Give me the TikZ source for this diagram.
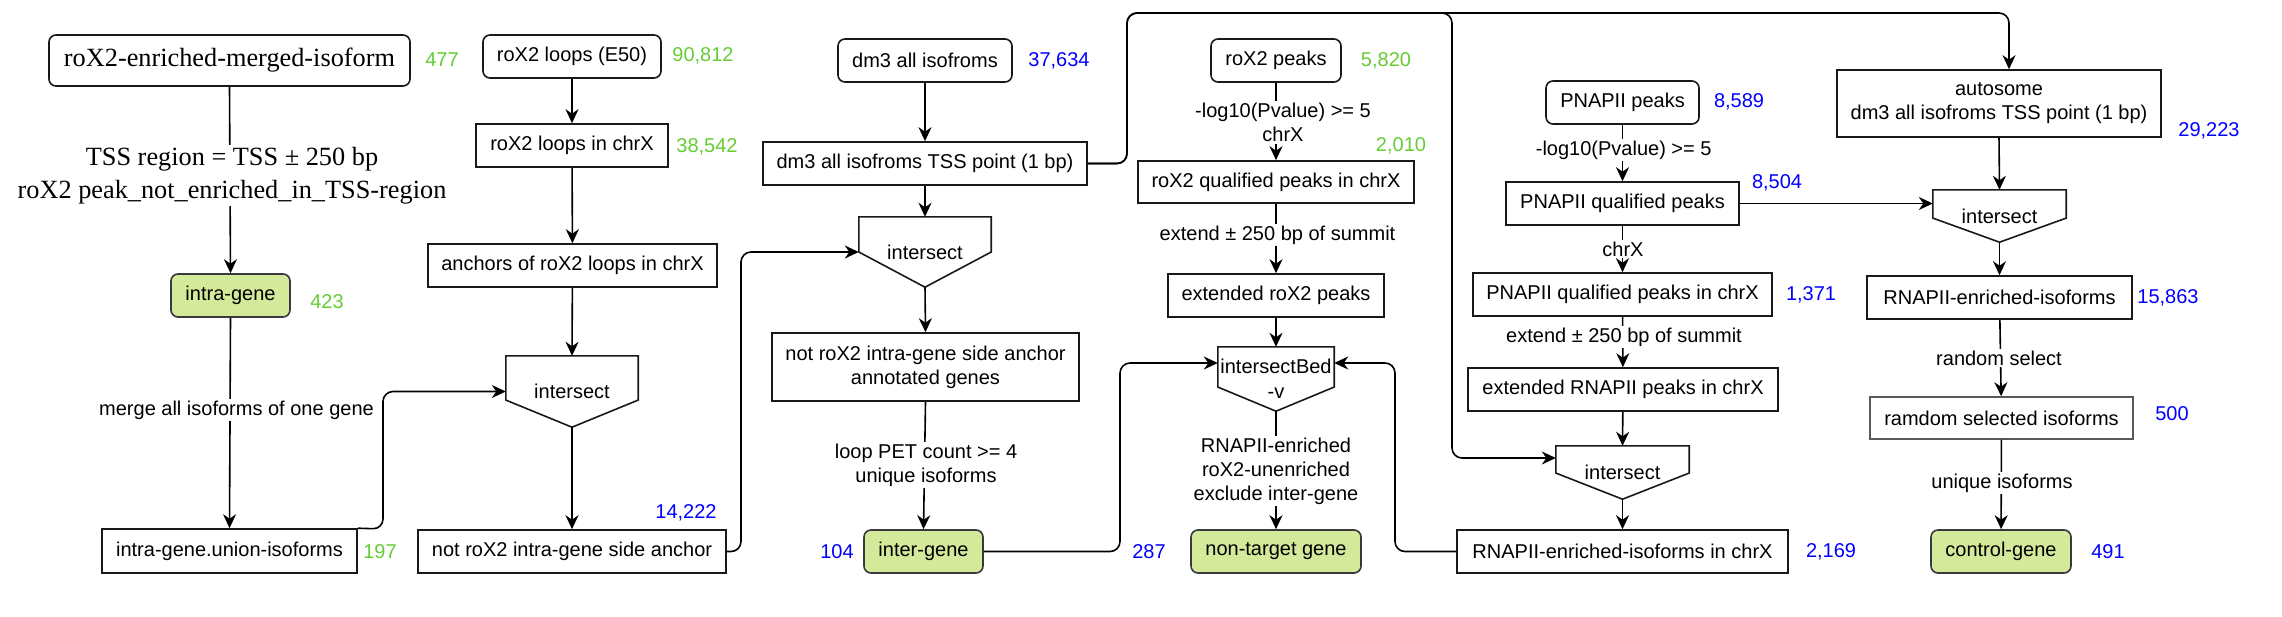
\documentclass[tikz,border=0pt]{standalone}
\usepackage{fontspec}
\setmainfont{Liberation Sans}
\newfontfamily\serifface{Liberation Serif}
\usetikzlibrary{arrows.meta,calc}
\definecolor{numgreen}{HTML}{66CC33}
\definecolor{numblue}{HTML}{0000FF}
\definecolor{gfill}{HTML}{D4E99A}
\definecolor{gstroke}{HTML}{36393D}
\newcommand\pentshape[2]{%
  \draw[shapeline] (#1.north west) -- (#1.north east)
    -- ($(#1.north east)!#2!(#1.south east)$) -- (#1.south)
    -- ($(#1.north west)!#2!(#1.south west)$) -- cycle;}
\begin{document}
\begin{tikzpicture}[x=1pt,y=-1pt,
  txt/.style={font=\fontsize{20}{24}\selectfont},
  box/.style={txt,draw=black!90,line width=1.6pt,minimum height=43pt,inner sep=0pt,align=center},
  rbox/.style={box,rounded corners=7pt},
  gbox/.style={rbox,fill=gfill,draw=gstroke},
  pent/.style={txt,inner sep=0pt,align=center},
  shapeline/.style={draw=black!90,line width=1.6pt,line join=miter},
  gnum/.style={txt,text=numgreen,inner sep=0pt},
  bnum/.style={txt,text=numblue,inner sep=0pt},
  lbl/.style={txt,fill=white,inner sep=2pt,align=center},
  arr/.style={line width=1.6pt,-{Stealth[length=14pt,width=13pt,inset=4.5pt]}},
  conn/.style={arr,rounded corners=10pt}]
\useasboundingbox (0,0) rectangle (2282,616);

% ---------- column 1
\node[rbox,font=\serifface\fontsize{26.3}{33}\selectfont,minimum width=361pt,minimum height=51pt] (merged) at (229.5,60.5) {roX2-enriched-merged-isoform};
\node[gnum] (n477) at (442,60) {477};
\node[gbox,minimum width=119pt] (intra) at (230.5,295.5) {intra-gene};
\node[gnum] (n423) at (327,302) {423};
\node[box,minimum width=255pt,minimum height=44pt] (union) at (229.5,551) {intra-gene.union-isoforms};
\node[gnum] (n197) at (380,552) {197};

% ---------- column 2
\node[rbox,minimum width=178pt] (loops) at (572,56.5) {roX2 loops (E50)};
\node[gnum] (n90812) at (703,56) {90,812};
\node[box,minimum width=192pt] (loopsx) at (572,145.5) {roX2 loops in chrX};
\node[gnum] (n38542) at (707,147) {38,542};
\node[box,minimum width=289pt] (anchors) at (572.5,265.5) {anchors of roX2 loops in chrX};
\node[pent,minimum width=132pt,minimum height=71pt] (i2) at (572,391.5) {intersect};
\pentshape{i2}{0.62}
\node[box,minimum width=308pt] (notanc) at (572,551.5) {not roX2 intra-gene side anchor};
\node[bnum] (n14222) at (686,513) {14,222};

% ---------- column 3
\node[rbox,minimum width=174pt] (dm3) at (925,60.5) {dm3 all isofroms};
\node[bnum] (n37634) at (1059,61) {37,634};
\node[box,minimum width=324pt] (tss) at (925,163.5) {dm3 all isofroms TSS point (1 bp)};
\node[pent,minimum width=132pt,minimum height=70pt] (i3) at (925,252) {intersect};
\pentshape{i3}{0.5}
\node[box,minimum width=307pt,minimum height=68pt] (annot) at (925.5,367) {not roX2 intra-gene side anchor\\annotated genes};
\node[gbox,minimum width=119pt] (inter) at (923.5,551.5) {inter-gene};
\node[bnum] (n104) at (837,552) {104};
\node[bnum] (n287) at (1149,552) {287};

% ---------- column 4
\node[rbox,minimum width=130pt] (peaks) at (1276,60.5) {roX2 peaks};
\node[gnum] (n5820) at (1386,61) {5,820};
\node[box,minimum width=276pt,minimum height=42pt] (qpeaks) at (1276,182) {roX2 qualified peaks in chrX};
\node[gnum] (n2010) at (1401,146) {2,010};
\node[box,minimum width=216pt] (ext) at (1276,295.5) {extended roX2 peaks};
\node[pent,minimum width=116pt,minimum height=64pt] (ib) at (1276,379) {intersectBed\\[1pt]-v};
\pentshape{ib}{0.625}
\node[gbox,minimum width=170pt] (nontarget) at (1276,551.5) {non-target gene};

% ---------- column 6
\node[rbox,minimum width=153pt] (pn) at (1622.5,102.5) {PNAPII peaks};
\node[bnum] (n8589) at (1739,102) {8,589};
\node[box,minimum width=233pt] (pq) at (1622.5,203.5) {PNAPII qualified peaks};
\node[bnum] (n8504) at (1777,183) {8,504};
\node[box,minimum width=299pt] (pqx) at (1622.5,294.5) {PNAPII qualified peaks in chrX};
\node[bnum] (n1371) at (1811,295) {1,371};
\node[box,minimum width=310pt] (extr) at (1623,389.5) {extended RNAPII peaks in chrX};
\node[pent,minimum width=133pt,minimum height=53pt] (i6) at (1622.5,472.5) {intersect};
\pentshape{i6}{0.51}
\node[box,minimum width=331pt] (enrx) at (1622.5,551.5) {RNAPII-enriched-isoforms in chrX};
\node[bnum] (n2169) at (1831,552) {2,169};

% ---------- column 7
\node[box,minimum width=324pt,minimum height=67pt] (auto) at (1999,103.5) {autosome\\dm3 all isofroms TSS point (1 bp)};
\node[bnum] (n29223) at (2209,131) {29,223};
\node[pent,minimum width=133pt,minimum height=52pt] (i7) at (1999.5,216) {intersect};
\pentshape{i7}{0.54}
\node[box,minimum width=265pt] (enr) at (1999.5,297.5) {RNAPII-enriched-isoforms};
\node[bnum] (n15863) at (2168,298) {15,863};
\node[box,draw=black!65,minimum width=263pt,minimum height=42pt] (rand) at (2001.5,418) {ramdom selected isoforms};
\node[bnum] (n500) at (2172,414) {500};
\node[gbox,minimum width=140pt] (ctrl) at (2001,551.5) {control-gene};
\node[bnum] (n491) at (2108,552) {491};

% ---------- connectors
\draw[arr] (merged.south) -- (intra.north);
\draw[arr] (intra.south) -- (union.north);
\draw[conn] (union.north east) -- (383,529) -- (383,391.5) -- (i2.west);
\draw[arr] (loops) -- (loopsx);
\draw[arr] (loopsx) -- (anchors);
\draw[arr] (anchors) -- (i2.north);
\draw[arr] (i2.south) -- (notanc.north);
\draw[conn] (notanc.east) -- (741,551.5) -- (741,252) -- (i3.west);
\draw[arr] (dm3) -- (tss);
\draw[arr] (tss) -- (i3.north);
\draw[arr] (i3.south) -- (annot.north);
\draw[arr] (annot.south) -- (inter.north);
\draw[conn] (inter.east) -- (1120,551.5) -- (1120,363) -- (ib.west |- 0,363);
\draw[conn] (tss.east) -- (1127,163.5) -- (1127,13) -- (1452,13) -- (1452,458) -- (i6.west |- 0,458);
\draw[conn] (tss.east) -- (1127,163.5) -- (1127,13) -- (2009,13) -- (2009,0 |- auto.north);
\draw[arr] (peaks) -- (qpeaks);
\draw[arr] (qpeaks) -- (ext);
\draw[arr] (ext) -- (ib.north);
\draw[arr] (ib.south) -- (nontarget.north);
\draw[conn] (enrx.west) -- (1395,551.5) -- (1395,363) -- (ib.east |- 0,363);
\draw[arr] (pn) -- (pq);
\draw[arr] (pq) -- (pqx);
\draw[arr] (pqx) -- (extr);
\draw[arr] (extr) -- (i6.north);
\draw[arr] (i6.south) -- (enrx.north);
\draw[arr] (pq.east) -- (i7.west |- pq.east);
\draw[arr] (auto.south) -- (i7.north);
\draw[arr] (i7.south) -- (enr.north);
\draw[arr] (enr) -- (rand);
\draw[arr] (rand) -- (ctrl);

% ---------- connector labels
\node[lbl,font=\serifface\fontsize{26.3}{33}\selectfont] (l1) at (232,175.5) {TSS region = TSS ± 250 bp\\roX2 peak\_not\_enriched\_in\_TSS-region};
\node[lbl] (l2) at (236.5,410) {merge all isoforms of one gene};
\node[lbl] (l3) at (926,465) {loop PET count >= 4\\unique isoforms};
\node[lbl] (l4) at (1283,122.5) {-log10(Pvalue) >= 5\\chrX};
\node[lbl] (l5) at (1277.5,235) {extend ± 250 bp of summit};
\node[lbl] (l6) at (1276,471) {RNAPII-enriched\\roX2-unenriched\\exclude inter-gene};
\node[lbl] (l7) at (1623.7,150) {-log10(Pvalue) >= 5};
\node[lbl] (l8) at (1623,249) {chrX};
\node[lbl] (l9) at (1624,337) {extend ± 250 bp of summit};
\node[lbl] (l10) at (1999,358) {random select};
\node[lbl] (l11) at (2002,483) {unique isoforms};
\end{tikzpicture}
\end{document}
